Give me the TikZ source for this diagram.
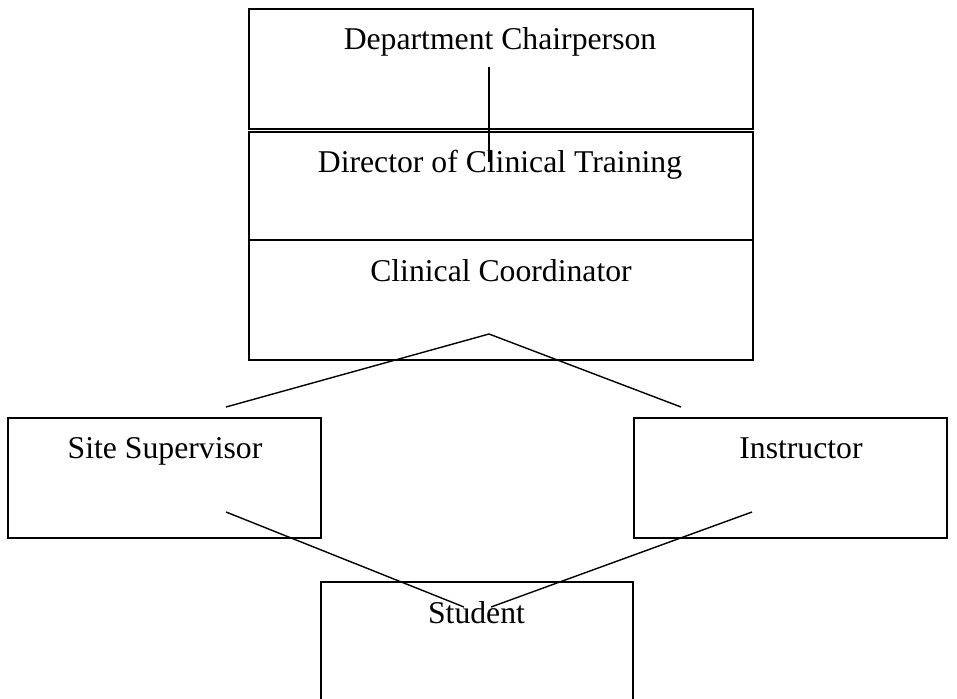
\documentclass[tikz,border=0pt]{standalone}
\usepackage{fontspec}
\setmainfont{Liberation Serif}
\begin{document}
\begin{tikzpicture}[x=1pt,y=-1pt,
  box/.style={draw=black,line width=1.8pt,rectangle,inner sep=0pt,outer sep=0pt},
  lbl/.style={anchor=base,inner sep=0pt,font=\fontsize{31.7}{38}\selectfont},
  conn/.style={draw=black,line width=1.4pt}]
\useasboundingbox (0,0) rectangle (957,698);
\clip (0,0) rectangle (957,698);
% boxes
\node[box,minimum width=504pt,minimum height=120pt] (chairbox) at (501,69) {};
\node[box,minimum width=504pt,minimum height=108pt] (dirbox) at (501,186) {};
\node[box,minimum width=504pt,minimum height=120pt] (coordbox) at (501,300) {};
\node[box,minimum width=313pt,minimum height=120pt] (sitebox) at (164.5,478) {};
\node[box,minimum width=313pt,minimum height=120pt] (instrbox) at (790.5,478) {};
\node[box,minimum width=312pt,minimum height=138pt] (studbox) at (477,651) {};
% labels
\node[lbl] (chair) at (500,50) {Department Chairperson};
\node[lbl] (dir) at (500,172) {Director of Clinical Training};
\node[lbl] (coord) at (501,281) {Clinical Coordinator};
\node[lbl] (site) at (165,458) {Site Supervisor};
\node[lbl] (instr) at (801,458) {Instructor};
\node[lbl] (stud) at (476.5,623) {Student};
% connector end points
\coordinate (c1) at (489,67);
\coordinate (c2) at (489,162);
\coordinate (apex) at (489,334);
\coordinate (sitetop) at (226,407);
\coordinate (instrtop) at (681,407);
\coordinate (sitebot) at (226,512);
\coordinate (instrbot) at (752,512);
\coordinate (studl) at (464,607);
\coordinate (studr) at (491,607);
% connectors
\draw[conn] (c1) -- (c2);
\draw[conn] (sitetop) -- (apex) -- (instrtop);
\draw[conn] (sitebot) -- (studl);
\draw[conn] (instrbot) -- (studr);
\end{tikzpicture}
\end{document}
